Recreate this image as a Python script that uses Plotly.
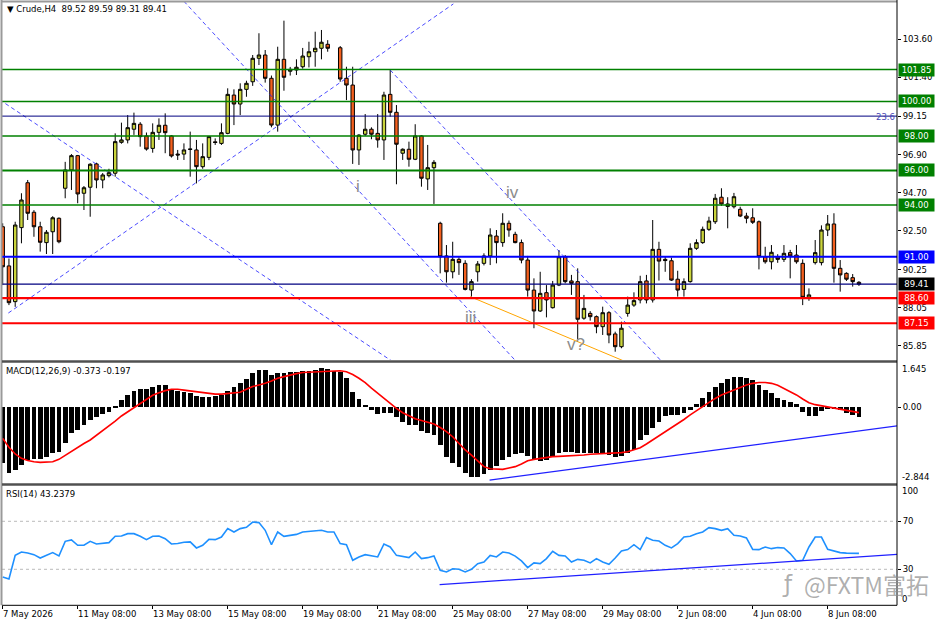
import plotly.graph_objects as go

W, H = 936, 624

# ---------------- data ----------------
bars = list(range(138))
opens = [92.74, 90.47, 88.40, 92.69, 95.29, 93.58, 92.74, 91.82, 92.45, 93.23,
         94.97, 96.03, 96.86, 94.68, 95.03, 96.38, 95.45, 95.70, 95.84, 97.63,
         97.77, 98.39, 98.68, 98.00, 97.28, 98.21, 98.62, 98.00, 96.95, 96.95,
         97.25, 97.19, 96.22, 96.76, 97.66, 97.57, 98.15, 100.37, 99.85, 100.70,
         101.14, 102.50, 102.69, 101.34, 98.63, 102.44, 101.75, 101.82, 102.01, 102.59,
         102.88, 103.08, 103.31, None, 103.11, 101.34, 100.95, 97.19, 98.10, 98.39,
         98.15, 97.77, 100.41, 99.37, 97.00, 97.23, 96.65, 98.00, 95.51, 96.16,
         92.94, 91.05, 90.13, 90.85, 90.62, 89.07, 90.13, 90.62, 91.05, 92.20,
         91.82, 92.94, 92.30, 91.82, 90.81, 89.07, 87.86, 88.92, 88.05, 89.36,
         91.00, 89.60, 89.56, 87.44, 87.72, 87.53, 86.95, 87.76, 86.53, 85.79,
         87.72, 88.20, 88.50, 89.60, 88.50, 91.43, 90.85, 90.77, 89.70, 89.11,
         89.56, 91.49, 91.82, 92.59, 93.03, 94.45, 94.06, 93.90, 93.75, 93.36,
         93.26, 93.03, 91.00, 90.71, 91.00, 90.85, 91.24, 91.10, 90.62, 88.65,
         90.66, 90.66, 92.55, 92.90, 90.33, 90.04, 89.79, 89.52]
highs = [92.94, 90.90, 93.03, 94.68, 95.45, 93.70, 93.03, 92.55, 93.35, 93.28,
         96.50, 96.95, 96.90, 95.10, 96.42, 96.45, 95.85, 96.10, 98.15, 98.77,
         99.21, 99.35, 98.80, 98.20, 98.73, 99.02, 99.31, 98.05, 97.19, 97.57,
         98.25, 97.77, 97.57, 98.00, 97.86, 98.73, 100.76, 100.70, 101.05, 101.20,
         102.69, 103.95, 102.98, 101.50, 103.17, 104.68, 102.00, 102.44, 103.10, 103.46,
         104.04, 104.14, 103.55, None, 103.21, 102.01, 102.01, 98.10, 99.27, 98.50,
         99.27, 100.56, 101.82, 99.79, 97.28, 97.67, 98.68, 98.05, 97.48, 96.60,
         93.03, 91.68, 91.87, 90.97, 90.80, 89.70, 90.75, 91.20, 92.65, 92.55,
         93.52, 93.10, 92.45, 92.00, 91.05, 89.75, 90.13, 89.36, 89.60, 91.39,
         91.10, 89.95, 90.33, 88.79, 87.85, 87.60, 88.11, 87.85, 86.66, 87.24,
         88.69, 88.94, 89.90, 89.95, 93.13, 91.87, 91.00, 90.95, 90.19, 89.75,
         91.78, 92.01, 92.75, 93.32, 94.64, 94.97, 94.45, 94.70, 93.90, 93.55,
         93.81, 93.10, 91.58, 91.68, 91.15, 91.68, 91.40, 91.68, 90.85, 89.17,
         91.97, 92.82, 93.42, 93.52, 90.81, 90.10, 90.00, 89.59]
lows = [89.36, 88.20, 88.10, 91.78, 93.13, 92.16, 91.30, 91.16, 91.16, 91.78,
        94.39, 94.87, 94.10, 93.71, 93.32, 94.97, 94.97, 95.60, 95.64, 97.55,
        97.57, 98.06, 97.38, 97.15, 97.03, 97.77, 97.00, 96.75, 96.61, 96.61,
        95.64, 95.25, 96.10, 96.60, 97.48, 97.48, 98.10, 98.63, 99.21, 100.27,
        100.90, 102.11, 101.09, 98.50, 98.25, 100.62, 101.50, 101.53, 101.90, 101.97,
        102.01, 102.44, 102.88, None, 101.14, 100.08, 96.38, 96.32, 98.00, 97.81,
        97.32, 96.61, 99.12, 95.20, 96.61, 96.22, 96.60, 95.06, 94.87, 94.06,
        90.04, 89.50, 89.75, 89.95, 89.05, 88.69, 89.56, 90.50, 90.52, 90.62,
        91.58, 92.16, 91.78, 90.62, 88.69, 86.86, 87.80, 87.49, 88.00, 89.30,
        89.46, 88.79, 86.22, 87.35, 87.30, 86.57, 86.47, 85.99, 85.50, 85.70,
        87.53, 88.10, 88.30, 88.30, 88.35, 89.62, 90.13, 89.60, 88.69, 88.69,
        89.50, 91.40, 91.75, 92.50, 92.90, 93.95, 92.65, 93.80, 93.30, 92.94,
        92.90, 90.27, 90.60, 90.27, 90.65, 90.70, 89.75, 90.60, 88.20, 88.45,
        90.55, 90.50, 92.20, 89.50, 88.98, 89.60, 89.27, 89.31]
closes = [90.42, 88.34, 92.84, 94.29, 93.52, 92.74, 91.84, 92.42, 93.26, 91.87,
          96.03, 96.86, 94.64, 95.00, 96.36, 95.45, 95.74, 95.87, 97.67, 97.77,
          98.48, 98.73, 97.96, 97.24, 98.21, 98.62, 98.19, 96.84, 96.90, 97.19,
          97.22, 96.22, 96.80, 97.96, 97.62, 98.19, 100.41, 99.85, 100.70, 101.05,
          102.50, 102.69, 101.34, 98.63, 102.44, 101.40, 101.86, 101.98, 102.63, 102.88,
          103.08, 103.43, 103.08, None, 101.30, 100.95, 97.19, 98.05, 98.39, 98.10,
          97.77, 100.37, 99.37, 97.52, 97.23, 96.65, 98.00, 95.55, 96.16, 96.47,
          91.00, 90.13, 90.85, 90.66, 89.11, 89.56, 90.58, 91.05, 92.26, 91.82,
          92.94, 92.55, 91.82, 90.81, 89.07, 87.86, 88.88, 88.50, 89.36, 91.00,
          89.56, 89.46, 87.38, 88.01, 87.53, 86.95, 87.76, 86.47, 85.79, 86.86,
          88.20, 88.46, 89.56, 88.50, 91.43, 90.75, 90.78, 89.65, 89.07, 89.56,
          91.49, 91.82, 92.59, 93.07, 94.39, 94.06, 93.92, 94.48, 93.36, 93.23,
          93.00, 91.00, 90.71, 91.26, 90.85, 91.20, 91.05, 90.71, 88.65, 88.79,
          91.24, 92.55, 92.90, 90.33, 89.95, 89.70, 89.56, 89.41]

macd_hist = [-2.08, -2.45, -2.33, -2.14, -1.95, -1.93, -1.93, -1.83, -1.71, -1.65,
             -1.31, -0.96, -0.84, -0.66, -0.47, -0.35, -0.25, -0.16, 0.05, 0.27,
             0.46, 0.61, 0.69, 0.67, 0.74, 0.83, 0.83, 0.67, 0.62, 0.56,
             0.52, 0.42, 0.37, 0.40, 0.42, 0.46, 0.62, 0.74, 0.89, 1.05,
             1.26, 1.38, 1.38, 1.20, 1.26, 1.29, 1.31, 1.32, 1.35, 1.36,
             1.38, 1.45, 1.41, 1.36, 1.32, 1.08, 0.58, 0.30, 0.09, -0.10,
             -0.25, -0.20, -0.20, -0.35, -0.53, -0.66, -0.66, -0.87, -0.94, -1.03,
             -1.39, -1.83, -2.05, -2.23, -2.45, -2.57, -2.57, -2.47, -2.33, -2.18,
             -1.95, -1.83, -1.73, -1.71, -1.81, -1.95, -1.98, -1.95, -1.86, -1.68,
             -1.65, -1.65, -1.68, -1.71, -1.71, -1.71, -1.73, -1.77, -1.83, -1.81,
             -1.71, -1.58, -1.21, -1.03, -0.78, -0.53, -0.32, -0.28, -0.28, -0.22,
             -0.10, 0.12, 0.33, 0.56, 0.77, 0.92, 1.04, 1.11, 1.11, 1.08,
             1.01, 0.83, 0.64, 0.52, 0.33, 0.27, 0.21, 0.12, -0.16, -0.32,
             -0.32, -0.12, -0.04, -0.07, -0.10, -0.20, -0.28, -0.373]
macd_signal = [-1.15, -1.48, -1.73, -1.89, -1.97, -2.02, -2.04, -2.04, -2.02, -1.93,
               -1.78, -1.62, -1.48, -1.34, -1.21, -1.04, -0.84, -0.67, -0.51, -0.32,
               -0.16, -0.01, 0.15, 0.31, 0.45, 0.54, 0.62, 0.67, 0.67, 0.64,
               0.61, 0.58, 0.56, 0.52, 0.49, 0.49, 0.51, 0.53, 0.56, 0.67,
               0.77, 0.83, 0.89, 0.98, 1.08, 1.14, 1.20, 1.25, 1.29, 1.30,
               1.31, 1.34, 1.35, 1.36, 1.36, 1.32, 1.22, 1.08, 0.92, 0.71,
               0.52, 0.33, 0.15, -0.04, -0.20, -0.31, -0.42, -0.49, -0.56, -0.62,
               -0.75, -0.90, -1.09, -1.34, -1.58, -1.77, -1.98, -2.20, -2.28, -2.30,
               -2.30, -2.25, -2.20, -2.10, -1.98, -1.93, -1.89, -1.86, -1.83, -1.82,
               -1.81, -1.81, -1.78, -1.77, -1.74, -1.73, -1.72, -1.71, -1.69, -1.68,
               -1.65, -1.58, -1.50, -1.36, -1.21, -1.06, -0.92, -0.75, -0.59, -0.45,
               -0.28, -0.12, 0.04, 0.19, 0.33, 0.46, 0.56, 0.64, 0.74, 0.83,
               0.89, 0.92, 0.92, 0.89, 0.82, 0.71, 0.58, 0.46, 0.31, 0.17,
               0.10, 0.06, 0.01, -0.04, -0.07, -0.11, -0.16, -0.197]
rsi = [23.6, 22.0, 41.6, 44.4, 43.6, 42.2, 39.4, 41.6, 43.9, 41.1,
       53.3, 54.5, 50.0, 50.0, 53.3, 51.1, 51.9, 52.2, 57.5, 57.8,
       59.7, 59.7, 57.5, 54.7, 57.5, 57.8, 55.5, 51.1, 51.5, 52.5,
       52.8, 47.8, 50.0, 55.0, 54.7, 56.9, 63.9, 61.1, 63.9, 65.0,
       69.4, 68.9, 62.5, 50.5, 61.1, 57.5, 58.3, 59.1, 61.1, 61.6,
       61.9, 62.5, 61.1, 61.1, 51.4, 50.5, 37.5, 40.3, 42.2, 41.1,
       40.3, 51.1, 48.6, 41.6, 40.8, 39.7, 44.4, 38.9, 39.7, 41.1,
       29.1, 27.8, 30.5, 30.0, 27.8, 30.0, 34.7, 36.1, 41.6, 40.3,
       44.4, 43.6, 41.0, 37.0, 31.4, 35.3, 34.7, 38.9, 45.0, 41.6,
       41.1, 36.1, 38.3, 37.5, 35.3, 38.9, 36.1, 34.2, 39.4, 45.3,
       46.4, 50.5, 46.4, 56.4, 54.2, 53.6, 50.0, 47.8, 51.4, 56.9,
       57.5, 59.7, 61.1, 64.7, 63.9, 62.5, 63.9, 58.3, 57.8, 56.1,
       46.6, 46.4, 48.6, 47.2, 48.1, 47.8, 43.1, 36.9, 37.5, 48.6,
       56.9, 56.9, 46.6, 45.3, 43.9, 43.5, 43.24, 43.24]

price_ticks = [103.60, 101.40, 99.15, 96.90, 94.70, 92.50, 90.25, 88.05, 85.85]
date_ticks = [0, 12, 24, 36, 48, 60, 72, 84, 96, 108, 120, 132]
date_labels = ["7 May 2026", "11 May 08:00", "13 May 08:00", "15 May 08:00",
               "19 May 08:00", "21 May 08:00", "25 May 08:00", "27 May 08:00",
               "29 May 08:00", "2 Jun 08:00", "4 Jun 08:00", "8 Jun 08:00"]

level_prices = [101.85, 100.00, 98.00, 96.00, 94.00, 99.15, 91.00, 89.41, 88.60, 87.15]
level_colors = ["#008000", "#008000", "#008000", "#008000", "#008000",
                "#000080", "#0000FF", "#000080", "#FF0000", "#FF0000"]
level_widths = [1.4, 1.4, 1.4, 2.0, 1.4, 1.0, 2.0, 1.2, 2.2, 2.2]

box_prices = [101.85, 100.00, 98.00, 96.00, 94.00, 91.00, 89.41, 88.60, 87.15]
box_texts = ["101.85", "100.00", "98.00", "96.00", "94.00", "91.00", "89.41", "88.60", "87.15"]
box_colors = ["#008000", "#008000", "#008000", "#008000", "#008000",
              "#0000FF", "#000000", "#FF0000", "#FF0000"]

# trend lines: (bar0, price0, bar1, price1)
dashed_lines = [(-0.5, 100.10, 62.5, 84.90),
                (0.9, 87.74, 72.1, 105.65),
                (29.0, 105.80, 82.0, 85.00),
                (62.0, 101.82, 105.4, 84.95)]
orange_line = (74.8, 88.69, 99.8, 84.90)
macd_trend = (77.9, -2.70, 143.3, -0.68)
rsi_trend = (69.9, 17.3, 143.3, 42.5)

wave_labels = ["i", "iv", "iii", "v?"]
wave_x = [56.9, 81.6, 74.9, 91.7]
wave_y = [95.07, 94.74, 87.47, 85.90]

# ---------------- layout geometry (pixels) ----------------
X0, X1 = 2, 897
MAIN = (2, 360)
MACD = (363, 484)
RSIP = (485.3, 605.3)
XR = [(X0 - 2.7) / 6.25, (X1 - 2.7) / 6.25]


def fy(py):
    return 1 - py / H


def fx(px):
    return px / W


FONT = "DejaVu Sans"
FS = 8.5

fig = go.Figure()

fig.add_trace(go.Candlestick(
    x=bars, open=opens, high=highs, low=lows, close=closes,
    increasing=dict(fillcolor="#CAD43C", line=dict(color="#000000", width=1)),
    decreasing=dict(fillcolor="#F4601E", line=dict(color="#000000", width=1)),
    whiskerwidth=0, xaxis="x", yaxis="y", showlegend=False, hoverinfo="skip"))

for (a0, p0, a1, p1) in dashed_lines:
    fig.add_trace(go.Scatter(x=[a0, a1], y=[p0, p1], mode="lines",
                             line=dict(color="rgba(30,30,255,0.8)", width=1, dash="4px,3px"),
                             xaxis="x", yaxis="y", showlegend=False, hoverinfo="skip"))
fig.add_trace(go.Scatter(x=[orange_line[0], orange_line[2]], y=[orange_line[1], orange_line[3]],
                         mode="lines", line=dict(color="#FFA500", width=1),
                         xaxis="x", yaxis="y", showlegend=False, hoverinfo="skip"))

# MACD
fig.add_trace(go.Bar(x=bars, y=macd_hist, marker=dict(color="#000000", line=dict(width=0)),
                     width=0.78, xaxis="x2", yaxis="y2", showlegend=False, hoverinfo="skip"))
fig.add_trace(go.Scatter(x=bars, y=macd_signal, mode="lines", line=dict(color="#FF0000", width=1.6),
                         xaxis="x2", yaxis="y2", showlegend=False, hoverinfo="skip"))
fig.add_trace(go.Scatter(x=[macd_trend[0], macd_trend[2]], y=[macd_trend[1], macd_trend[3]],
                         mode="lines", line=dict(color="#2020FF", width=1.3),
                         xaxis="x2", yaxis="y2", showlegend=False, hoverinfo="skip"))

# RSI
fig.add_trace(go.Scatter(x=bars, y=rsi, mode="lines", line=dict(color="#1E90FF", width=1.6),
                         xaxis="x3", yaxis="y3", showlegend=False, hoverinfo="skip"))
fig.add_trace(go.Scatter(x=[rsi_trend[0], rsi_trend[2]], y=[rsi_trend[1], rsi_trend[3]],
                         mode="lines", line=dict(color="#2020FF", width=1.3),
                         xaxis="x3", yaxis="y3", showlegend=False, hoverinfo="skip"))

shapes = []
for p, c, w in zip(level_prices, level_colors, level_widths):
    shapes.append(dict(type="line", xref="paper", yref="y", x0=fx(X0), x1=fx(X1), y0=p, y1=p,
                       line=dict(color=c, width=w), layer="above"))
for lv in (70, 30):
    shapes.append(dict(type="line", xref="paper", yref="y3", x0=fx(X0), x1=fx(X1), y0=lv, y1=lv,
                       line=dict(color="#BBBBBB", width=1, dash="3px,3px"), layer="below"))
# frames
shapes += [
    dict(type="line", xref="paper", yref="paper", x0=fx(X0), x1=fx(X1), y0=fy(1.5), y1=fy(1.5),
         line=dict(color="#9A9A9A", width=2)),
    dict(type="line", xref="paper", yref="paper", x0=fx(1.5), x1=fx(1.5), y0=fy(0), y1=fy(605.3),
         line=dict(color="#9A9A9A", width=2)),
    dict(type="line", xref="paper", yref="paper", x0=fx(X0), x1=fx(X1), y0=fy(361.5), y1=fy(361.5),
         line=dict(color="#505050", width=2.5)),
    dict(type="line", xref="paper", yref="paper", x0=fx(X0), x1=fx(X1), y0=fy(484.5), y1=fy(484.5),
         line=dict(color="#505050", width=2.5)),
    dict(type="line", xref="paper", yref="paper", x0=fx(X0), x1=fx(X1), y0=fy(605.3), y1=fy(605.3),
         line=dict(color="#000000", width=1)),
    dict(type="line", xref="paper", yref="paper", x0=fx(X1), x1=fx(X1), y0=fy(0), y1=fy(605.3),
         line=dict(color="#000000", width=1)),
]

ann = []


def text_px(t, px, py, color="#000000", size=FS, anchor="left", family=FONT):
    ann.append(dict(text=t, x=fx(px), y=fy(py), xref="paper", yref="paper", showarrow=False,
                    xanchor=anchor, yanchor="middle", font=dict(family=family, size=size, color=color),
                    borderpad=0))


text_px("▼ Crude,H4  89.52 89.59 89.31 89.41", 6, 9.5)
text_px("MACD(12,26,9) -0.373 -0.197", 5, 370.5)
text_px("RSI(14) 43.2379", 5, 493.5)
text_px("23.6", 896, 116.5, color="#4646B4", anchor="right")
text_px("1.645", 901, 369.3)
text_px("-2.844", 901, 476.7)
text_px("100", 901, 491.3)
text_px("0", 901, 599.3)

for bt, lab in zip(date_ticks, date_labels):
    ann.append(dict(text=lab, x=bt, y=fy(613.5), xref="x3", yref="paper", showarrow=False,
                    xanchor="left", yanchor="middle", xshift=-1,
                    font=dict(family=FONT, size=FS, color="#000000"), borderpad=0))

for p, t, c in zip(box_prices, box_texts, box_colors):
    ann.append(dict(text=t, x=fx(898), y=p, xref="paper", yref="y", showarrow=False,
                    xanchor="left", yanchor="middle", width=34, height=11, align="center",
                    bgcolor=c, borderpad=0.5,
                    font=dict(family=FONT, size=FS, color="#FFFFFF")))

for t, bx, by in zip(wave_labels, wave_x, wave_y):
    ann.append(dict(text=t, x=bx, y=by, xref="x", yref="y", showarrow=False,
                    xanchor="center", yanchor="middle",
                    font=dict(family="Liberation Sans", size=17, color="#8C8C8C")))

# watermark
text_px("ƒ", 781, 584, color="rgba(140,140,140,0.7)", size=23, family="DejaVu Sans")
text_px("@FXTM富拓", 803, 584, color="rgba(140,140,140,0.7)", size=23, family="Noto Sans CJK SC")

axis_common = dict(showgrid=False, zeroline=False, range=XR, fixedrange=True)
fig.update_layout(
    width=W, height=H, autosize=False,
    margin=dict(l=0, r=0, t=0, b=0, pad=0),
    paper_bgcolor="#FFFFFF", plot_bgcolor="#FFFFFF",
    showlegend=False, bargap=0, boxgap=0.22,
    font=dict(family=FONT, size=FS, color="#000000"),
    xaxis=dict(domain=[fx(X0), fx(X1)], anchor="y", showticklabels=False, ticks="",
               rangeslider=dict(visible=False), **axis_common),
    xaxis2=dict(domain=[fx(X0), fx(X1)], anchor="y2", showticklabels=False, ticks="",
                matches="x", **axis_common),
    xaxis3=dict(domain=[fx(X0), fx(X1)], anchor="y3", showticklabels=False, ticks="outside",
                ticklen=3, tickcolor="#000000", tickvals=date_ticks, matches="x", **axis_common),
    yaxis=dict(domain=[fy(MAIN[1]), fy(MAIN[0])], anchor="x", side="right",
               range=[103.6 - (MAIN[1] - 39.3) / 17.26, 103.6 + (39.3 - MAIN[0]) / 17.26],
               tickvals=price_ticks, ticktext=["%.2f" % v for v in price_ticks],
               ticks="outside", ticklen=3, tickcolor="#000000", showgrid=False, zeroline=False,
               tickfont=dict(family=FONT, size=FS, color="#000000"), automargin=False),
    yaxis2=dict(domain=[fy(MACD[1]), fy(MACD[0])], anchor="x2", side="right",
                range=[-2.844, 1.645], tickvals=[0], ticktext=["0.00"],
                ticks="outside", ticklen=3, tickcolor="#000000", showgrid=False, zeroline=False,
                tickfont=dict(family=FONT, size=FS, color="#000000"), automargin=False),
    yaxis3=dict(domain=[fy(RSIP[1]), fy(RSIP[0])], anchor="x3", side="right",
                range=[0, 100], tickvals=[70, 30], ticktext=["70", "30"],
                ticks="outside", ticklen=3, tickcolor="#000000", showgrid=False, zeroline=False,
                tickfont=dict(family=FONT, size=FS, color="#000000"), automargin=False),
    shapes=shapes,
    annotations=ann,
)

fig.write_html("out.html")
